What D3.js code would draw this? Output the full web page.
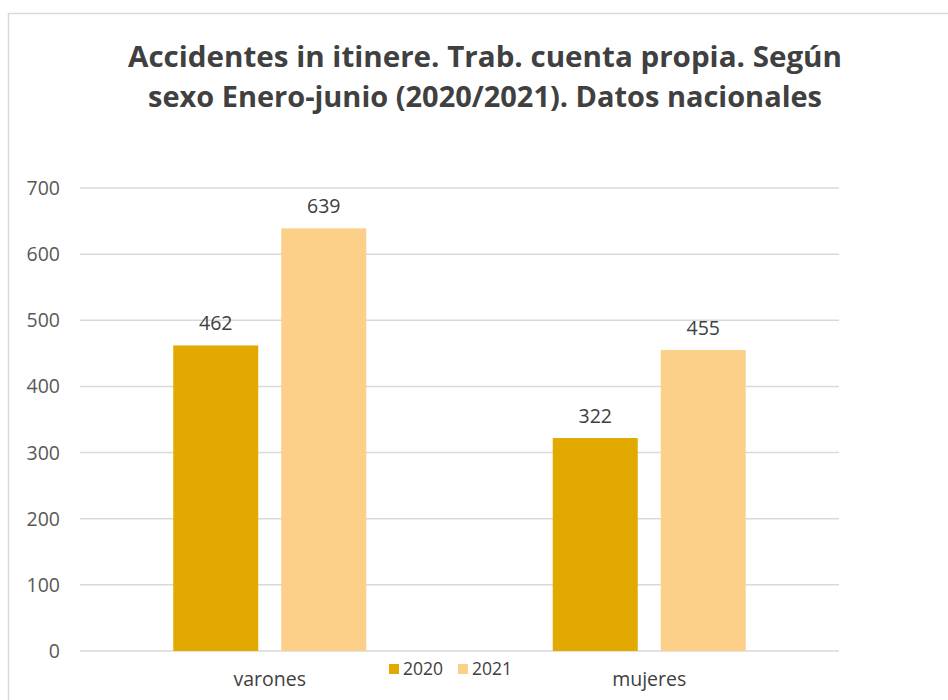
<!DOCTYPE html>
<html>
<head>
<meta charset="utf-8">
<script src="https://cdn.jsdelivr.net/npm/d3@7"></script>
<style>
  body { margin: 0; background: #fff; }
  svg { display: block; font-family: "Open Sans", "DejaVu Sans", sans-serif; }
</style>
</head>
<body>
<svg id="viz" width="948" height="700"></svg>
<script>
(function () {
  "use strict";

  // data
  const categories = ["varones", "mujeres"];
  const seriesNames = ["2020", "2021"];
  const values2020 = [462, 322];
  const values2021 = [639, 455];
  const yTicks = [0, 100, 200, 300, 400, 500, 600, 700];
  const titleLines = [
    "Accidentes in itinere. Trab. cuenta propia. Según",
    "sexo Enero-junio (2020/2021). Datos nacionales"
  ];

  const colors = { "2020": "#E2AA00", "2021": "#FDD089" };

  let margin = { top: 188, left: 80, right: 109, bottom: 49 };
  let width = 948 - margin.left - margin.right;
  let height = 700 - margin.top - margin.bottom;

  let svg = d3.select("#viz");

  // chart frame
  svg.append("rect")
    .attr("x", 8.5).attr("y", 13.5)
    .attr("width", 960).attr("height", 720)
    .attr("fill", "none")
    .attr("stroke", "#d9d9d9")
    .attr("stroke-width", 1.5);

  // title
  let titleWidths = [714, 674];
  svg.selectAll(".title")
    .data(titleLines)
    .enter()
    .append("text")
    .attr("class", "title")
    .attr("x", 485)
    .attr("y", (d, i) => 67 + i * 40)
    .attr("text-anchor", "middle")
    .attr("font-size", 28)
    .attr("font-weight", "bold")
    .attr("fill", "#404040")
    .attr("textLength", (d, i) => titleWidths[i])
    .attr("lengthAdjust", "spacingAndGlyphs")
    .text(d => d);

  let g = svg.append("g")
    .attr("transform", `translate(${margin.left},${margin.top})`);

  let x0 = d3.scaleBand()
    .domain(categories)
    .range([0, width]);

  let y = d3.scaleLinear()
    .domain([0, 700])
    .range([height, 0]);

  // grid
  g.selectAll(".grid")
    .data(yTicks)
    .enter()
    .append("line")
    .attr("x1", 0).attr("x2", width)
    .attr("y1", d => y(d)).attr("y2", d => y(d))
    .attr("stroke", "#d9d9d9")
    .attr("stroke-width", 1.5);

  // y tick labels
  g.selectAll(".ytick")
    .data(yTicks)
    .enter()
    .append("text")
    .attr("x", -20)
    .attr("y", d => y(d) + 7)
    .attr("text-anchor", "end")
    .attr("font-size", 19.5)
    .attr("fill", "#595959")
    .text(d => d);

  let barW = 85, gap = 23;
  let rows = categories.map((c, i) => ({
    cat: c,
    bars: [
      { s: "2020", v: values2020[i] },
      { s: "2021", v: values2021[i] }
    ]
  }));

  let groups = g.selectAll(".cat")
    .data(rows)
    .enter()
    .append("g")
    .attr("transform", d => `translate(${x0(d.cat) + x0.bandwidth() / 2},0)`);

  let bx = (i) => i === 0 ? -gap / 2 - barW : gap / 2;

  groups.selectAll("rect")
    .data(d => d.bars)
    .enter()
    .append("rect")
    .attr("x", (d, i) => bx(i))
    .attr("y", d => y(d.v))
    .attr("width", barW)
    .attr("height", d => height - y(d.v))
    .attr("fill", d => colors[d.s]);

  groups.selectAll(".lbl")
    .data(d => d.bars)
    .enter()
    .append("text")
    .attr("x", (d, i) => bx(i) + barW / 2)
    .attr("y", d => y(d.v) - 15)
    .attr("text-anchor", "middle")
    .attr("font-size", 19.5)
    .attr("fill", "#404040")
    .text(d => d.v);

  // category labels
  g.selectAll(".xlab")
    .data(categories)
    .enter()
    .append("text")
    .attr("x", d => x0(d) + x0.bandwidth() / 2)
    .attr("y", height + 35)
    .attr("text-anchor", "middle")
    .attr("font-size", 19.5)
    .attr("fill", "#404040")
    .text(d => d);

  // legend
  let legend = svg.append("g")
    .selectAll(".leg")
    .data(seriesNames)
    .enter()
    .append("g")
    .attr("transform", (d, i) => `translate(${389 + i * 69},664)`);

  legend.append("rect")
    .attr("width", 10).attr("height", 10)
    .attr("fill", d => colors[d]);

  legend.append("text")
    .attr("x", 14)
    .attr("y", 11)
    .attr("font-size", 17.5)
    .attr("fill", "#404040")
    .text(d => d);
})();
</script>
</body>
</html>
